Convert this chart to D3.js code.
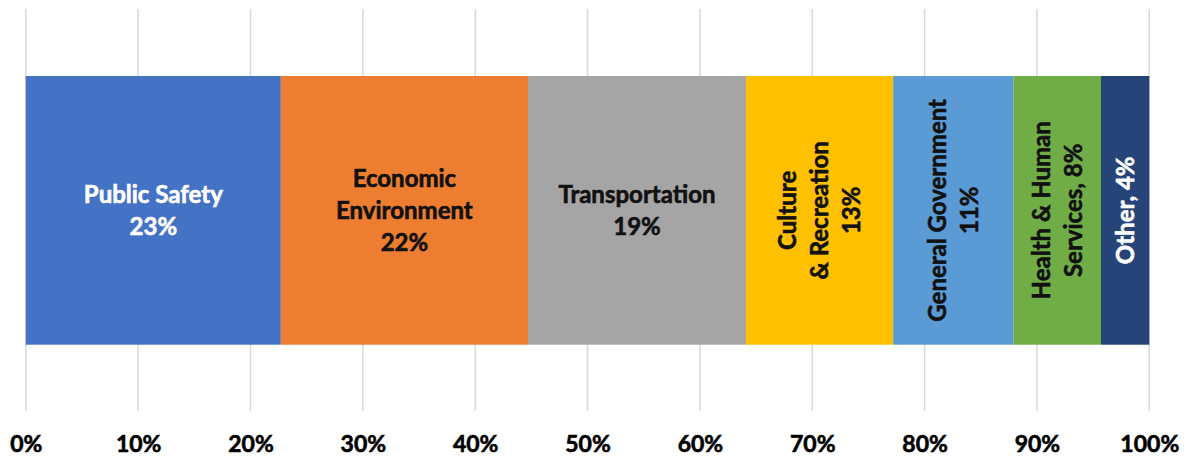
<!DOCTYPE html>
<html>
<head>
<meta charset="utf-8">
<script src="https://cdn.jsdelivr.net/npm/d3@7/dist/d3.min.js"></script>
<style>
  html, body { margin: 0; padding: 0; background: #fff; }
  svg { display: block; }
  text { font-family: Lato, "Open Sans", sans-serif; font-weight: bold; }
</style>
</head>
<body>
<svg id="chart" width="1186" height="460"></svg>
<script>
// Spending share by function (percent of total)
const categories = ["Public Safety", "Economic Environment", "Transportation", "Culture & Recreation",
                    "General Government", "Health & Human Services", "Other"];
const shares = [22.7, 22.0, 19.4, 13.1, 10.7, 7.8, 4.3];
const tickValues = [0, 10, 20, 30, 40, 50, 60, 70, 80, 90, 100];

// Label lines per segment; the percentage line is appended from the data
const labelLines = [
  ["Public Safety"],
  ["Economic", "Environment"],
  ["Transportation"],
  ["Culture", "& Recreation"],
  ["General Government"],
  ["Health & Human", "Services, "],
  ["Other, "]
];
const colors = ["#4472C4", "#ED7D31", "#A5A5A5", "#FFC000", "#5B9BD5", "#70AD47", "#264478"];
const textColors = ["#ffffff", "#111111", "#111111", "#111111", "#111111", "#111111", "#ffffff"];
const vertical = [false, false, false, true, true, true, true];

const svg = d3.select("#chart");
const x = d3.scaleLinear().domain([0, 100]).range([25.8, 1149.3]);
const barTop = 76, barBottom = 344.7;
const gridTop = 9, gridBottom = 411;

// Gridlines
svg.append("g")
  .selectAll("line")
  .data(tickValues)
  .join("line")
  .attr("x1", d => x(d)).attr("x2", d => x(d))
  .attr("y1", gridTop).attr("y2", gridBottom)
  .attr("stroke", "#d9d9d9")
  .attr("stroke-width", 1.5);

// Axis tick labels
const axis = d3.axisBottom(x)
  .tickValues(tickValues)
  .tickSize(0)
  .tickPadding(0)
  .tickFormat(d => d + "%");
const axisG = svg.append("g").call(axis);
axisG.select(".domain").remove();
axisG.selectAll("text")
  .attr("y", 452)
  .attr("dy", null)
  .attr("fill", "#000")
  .attr("stroke", "#000")
  .attr("stroke-width", 0.6)
  .style("font-family", "Lato, 'Open Sans', sans-serif")
  .style("font-weight", "bold")
  .style("font-size", "23px");

// Stacked segments
const starts = d3.cumsum([0].concat(shares.slice(0, -1)));
const segs = shares.map((v, i) => ({
  name: categories[i], value: v, start: starts[i], end: starts[i] + v,
  color: colors[i], textColor: textColors[i], vertical: vertical[i],
  lines: labelLines[i]
}));

svg.append("g")
  .selectAll("rect")
  .data(segs)
  .join("rect")
  .attr("x", d => x(d.start))
  .attr("width", d => x(d.end) - x(d.start))
  .attr("y", barTop)
  .attr("height", barBottom - barTop)
  .attr("fill", d => d.color);

// Segment labels
const lineGap = 32;
const cy = (barTop + barBottom) / 2;
segs.forEach(d => {
  const pct = Math.round(d.value) + "%";
  let lines = d.lines.slice();
  if (lines[lines.length - 1].endsWith(", ")) {
    lines[lines.length - 1] = lines[lines.length - 1] + pct;
  } else {
    lines.push(pct);
  }
  const cx = (x(d.start) + x(d.end)) / 2;
  const g = svg.append("g")
    .attr("transform", d.vertical ? `translate(${cx},${cy}) rotate(-90)` : `translate(${cx},${cy})`);
  const n = lines.length;
  g.selectAll("text")
    .data(lines)
    .join("text")
    .attr("x", 0)
    .attr("y", (t, i) => (i - (n - 1) / 2) * lineGap)
    .attr("dy", "0.36em")
    .attr("text-anchor", "middle")
    .attr("fill", d.textColor)
    .attr("stroke", d.textColor)
    .attr("stroke-width", 0.6)
    .style("font-size", "24px")
    .text(t => t);
});
</script>
</body>
</html>
